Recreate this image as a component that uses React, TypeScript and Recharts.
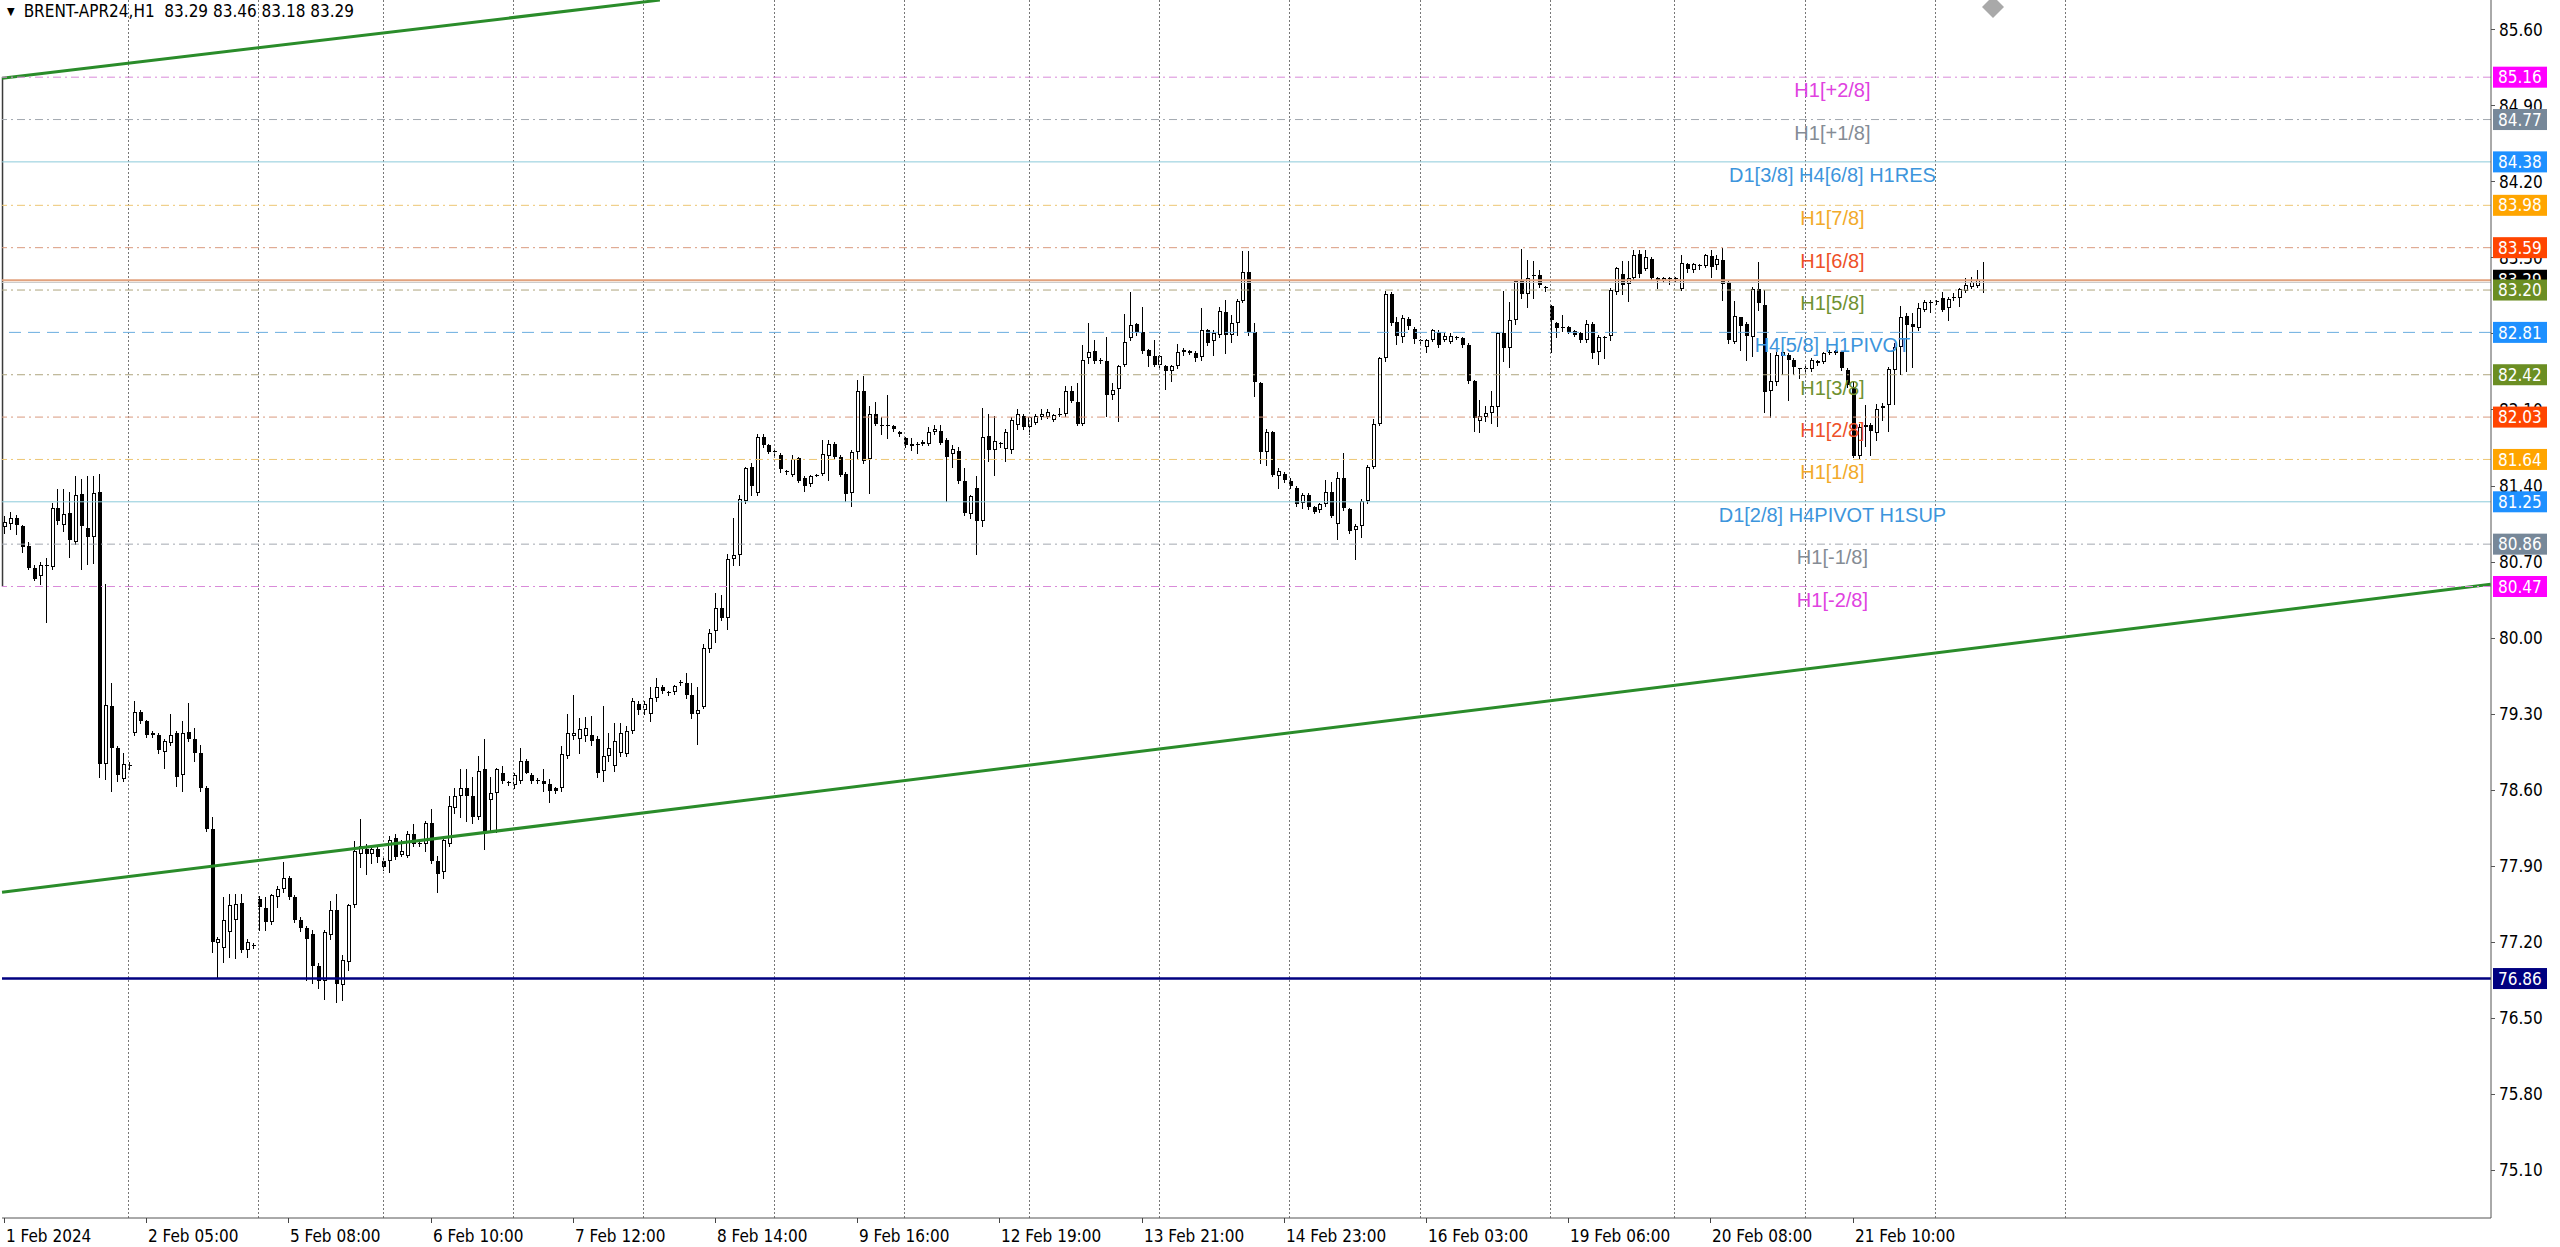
import React from 'react';
import { ComposedChart, Bar, XAxis, YAxis, ReferenceLine, ReferenceDot } from 'recharts';

// BRENT-APR24 H1 candles, 1 Feb 2024 -> 21 Feb 2024: [open, high, low, close]
const ohlc: number[][] = [
  [81.02, 81.12, 80.96, 81.06], [81.05, 81.16, 81.00, 81.10], [81.10, 81.13, 80.95, 81.04], [81.03, 81.04, 80.79, 80.83],
  [80.84, 80.88, 80.63, 80.64], [80.64, 80.67, 80.53, 80.54], [80.57, 80.70, 80.49, 80.67], [80.66, 80.73, 80.14, 80.67],
  [80.65, 81.24, 80.63, 81.19], [81.19, 81.37, 81.05, 81.07], [81.04, 81.37, 80.98, 81.14], [81.15, 81.34, 80.74, 80.90],
  [80.88, 81.49, 80.86, 81.31], [81.32, 81.46, 80.63, 81.03], [81.01, 81.49, 80.68, 80.93], [80.93, 81.49, 80.69, 81.33],
  [81.34, 81.51, 78.72, 78.84], [78.84, 80.49, 78.70, 79.38], [79.37, 79.58, 78.59, 78.98], [78.98, 79.00, 78.68, 78.73],
  [78.70, 78.94, 78.68, 78.84], [78.82, 78.85, 78.79, 78.83],
  // 2 Feb
  [79.12, 79.42, 79.10, 79.31], [79.31, 79.33, 79.21, 79.23], [79.23, 79.24, 79.08, 79.10], [79.12, 79.14, 79.08, 79.10],
  [79.10, 79.12, 78.94, 78.96], [78.95, 79.07, 78.80, 79.05], [79.03, 79.30, 79.01, 79.10], [79.12, 79.14, 78.63, 78.72],
  [78.73, 79.23, 78.59, 79.12], [79.13, 79.40, 79.05, 79.07], [79.07, 79.17, 78.86, 78.94], [78.94, 79.01, 78.59, 78.61],
  [78.61, 78.63, 78.22, 78.24], [78.24, 78.35, 77.10, 77.20], [77.19, 77.24, 76.87, 77.22], [77.14, 77.61, 77.01, 77.40],
  [77.29, 77.64, 77.06, 77.54], [77.40, 77.64, 77.05, 77.55], [77.56, 77.64, 77.10, 77.12], [77.12, 77.22, 77.06, 77.20],
  [77.17, 77.19, 77.14, 77.17],
  // 5 Feb
  [77.59, 77.62, 77.31, 77.52], [77.51, 77.61, 77.31, 77.38], [77.38, 77.64, 77.36, 77.63], [77.61, 77.71, 77.52, 77.68],
  [77.68, 77.93, 77.66, 77.79], [77.79, 77.80, 77.59, 77.61], [77.61, 77.63, 77.38, 77.40], [77.40, 77.43, 77.30, 77.33],
  [77.33, 77.34, 76.85, 77.22], [77.27, 77.31, 76.82, 76.98], [76.98, 77.00, 76.77, 76.84], [76.84, 77.31, 76.67, 77.29],
  [77.26, 77.57, 77.22, 77.49], [77.49, 77.64, 76.64, 76.81], [76.80, 77.08, 76.66, 77.03], [77.01, 77.55, 76.94, 77.54],
  [77.54, 78.13, 77.52, 78.03], [78.01, 78.33, 77.89, 78.08], [78.05, 78.10, 77.82, 78.01], [78.01, 78.08, 77.92, 78.05],
  [78.05, 78.08, 77.93, 77.98],
  // 6 Feb
  [77.94, 77.97, 77.86, 77.89], [77.94, 78.17, 77.84, 78.14], [78.15, 78.19, 77.96, 77.98], [78.00, 78.14, 77.99, 78.03],
  [77.99, 78.22, 77.98, 78.19], [78.19, 78.28, 78.08, 78.10], [78.10, 78.12, 78.08, 78.11], [78.10, 78.31, 78.03, 78.29],
  [78.29, 78.42, 77.92, 77.94], [77.94, 77.99, 77.66, 77.82], [77.84, 78.17, 77.79, 78.14], [78.10, 78.54, 78.08, 78.45],
  [78.43, 78.61, 78.38, 78.54], [78.54, 78.79, 78.35, 78.61], [78.61, 78.79, 78.31, 78.54], [78.54, 78.72, 78.29, 78.35],
  [78.35, 78.91, 78.33, 78.77], [78.79, 79.07, 78.05, 78.21], [78.50, 78.72, 78.21, 78.57], [78.57, 78.80, 78.21, 78.79],
  [78.75, 78.82, 78.66, 78.68], [78.66, 78.68, 78.64, 78.67],
  // 7 Feb
  [78.64, 78.75, 78.61, 78.73], [78.68, 78.98, 78.66, 78.86], [78.86, 78.88, 78.75, 78.75], [78.73, 78.75, 78.66, 78.68],
  [78.69, 78.71, 78.66, 78.68], [78.68, 78.79, 78.59, 78.65], [78.65, 78.70, 78.49, 78.59], [78.61, 78.62, 78.57, 78.59],
  [78.61, 79.00, 78.59, 78.93], [78.91, 79.30, 78.89, 79.12], [79.09, 79.47, 79.07, 79.12], [79.07, 79.26, 78.94, 79.16],
  [79.09, 79.27, 79.05, 79.17], [79.10, 79.28, 79.01, 79.05], [79.07, 79.09, 78.72, 78.75], [78.77, 79.37, 78.68, 78.91],
  [78.91, 79.12, 78.86, 78.98], [78.82, 79.21, 78.77, 79.05], [78.94, 79.21, 78.91, 79.12], [78.93, 79.19, 78.91, 79.14],
  [79.14, 79.44, 79.12, 79.42], [79.39, 79.42, 79.30, 79.33],
  // 8 Feb
  [79.33, 79.42, 79.30, 79.39], [79.30, 79.54, 79.23, 79.44], [79.44, 79.63, 79.42, 79.54], [79.54, 79.56, 79.49, 79.51],
  [79.49, 79.51, 79.47, 79.50], [79.50, 79.56, 79.48, 79.55], [79.58, 79.61, 79.56, 79.59], [79.58, 79.67, 79.44, 79.47],
  [79.47, 79.58, 79.26, 79.30], [79.30, 79.54, 79.02, 79.33], [79.36, 79.94, 79.35, 79.90], [79.89, 80.08, 79.87, 80.04],
  [80.06, 80.41, 79.96, 80.27], [80.27, 80.39, 80.16, 80.18], [80.18, 80.77, 80.08, 80.72], [80.72, 81.10, 80.67, 80.76],
  [80.76, 81.31, 80.67, 81.28], [81.26, 81.57, 81.24, 81.56], [81.57, 81.61, 81.31, 81.40], [81.33, 81.87, 81.31, 81.85],
  [81.85, 81.87, 81.75, 81.77], [81.77, 81.78, 81.70, 81.71],
  // 9 Feb
  [81.71, 81.73, 81.68, 81.72], [81.68, 81.70, 81.52, 81.55], [81.53, 81.54, 81.51, 81.52], [81.50, 81.68, 81.49, 81.64],
  [81.65, 81.66, 81.43, 81.44], [81.47, 81.49, 81.35, 81.40], [81.41, 81.50, 81.40, 81.49], [81.50, 81.51, 81.49, 81.50],
  [81.51, 81.82, 81.50, 81.69], [81.67, 81.82, 81.45, 81.78], [81.78, 81.80, 81.64, 81.66], [81.66, 81.68, 81.49, 81.50],
  [81.51, 81.52, 81.26, 81.32], [81.33, 81.73, 81.21, 81.71], [81.71, 82.37, 81.64, 82.27], [82.27, 82.41, 81.61, 81.63],
  [81.64, 82.13, 81.33, 82.06], [82.06, 82.17, 81.96, 81.97], [81.96, 82.03, 81.87, 81.96], [81.96, 82.23, 81.84, 81.95],
  [81.95, 81.96, 81.90, 81.92], [81.89, 81.90, 81.86, 81.87],
  // 12 Feb
  [81.84, 81.85, 81.75, 81.77], [81.76, 81.84, 81.73, 81.78], [81.78, 81.80, 81.70, 81.77], [81.78, 81.82, 81.77, 81.80],
  [81.78, 81.94, 81.77, 81.89], [81.89, 81.96, 81.87, 81.92], [81.90, 81.96, 81.78, 81.79], [81.82, 81.84, 81.26, 81.66],
  [81.69, 81.77, 81.57, 81.74], [81.72, 81.75, 81.42, 81.44], [81.44, 81.56, 81.13, 81.15], [81.14, 81.31, 81.10, 81.30],
  [81.38, 81.49, 80.77, 81.07], [81.07, 82.11, 81.03, 81.85], [81.86, 82.06, 81.63, 81.73], [81.73, 82.04, 81.50, 81.81],
  [81.78, 81.80, 81.75, 81.79], [81.74, 81.92, 81.63, 81.89], [81.73, 82.03, 81.70, 82.00], [81.96, 82.10, 81.92, 82.06],
  [82.04, 82.06, 81.92, 81.94], [81.94, 82.04, 81.87, 82.03],
  // 13 Feb
  [81.98, 82.06, 81.97, 82.04], [82.03, 82.10, 82.01, 82.06], [82.03, 82.10, 82.02, 82.08], [82.00, 82.06, 81.99, 82.05],
  [82.05, 82.11, 82.04, 82.06], [82.06, 82.32, 82.04, 82.27], [82.27, 82.32, 82.17, 82.18], [82.17, 82.34, 81.96, 81.97],
  [81.97, 82.69, 81.96, 82.56], [82.57, 82.90, 82.53, 82.63], [82.64, 82.74, 82.53, 82.55], [82.55, 82.57, 82.53, 82.56],
  [82.55, 82.77, 82.04, 82.23], [82.23, 82.34, 82.20, 82.28], [82.29, 82.51, 81.99, 82.50], [82.51, 82.98, 82.50, 82.72],
  [82.76, 83.18, 82.74, 82.88], [82.89, 82.90, 82.79, 82.81], [82.81, 83.04, 82.62, 82.64], [82.65, 82.66, 82.50, 82.59],
  [82.59, 82.74, 82.50, 82.51], [82.51, 82.60, 82.48, 82.59],
  // 14 Feb
  [82.50, 82.51, 82.29, 82.45], [82.45, 82.51, 82.36, 82.50], [82.50, 82.70, 82.48, 82.63], [82.63, 82.67, 82.60, 82.65],
  [82.62, 82.65, 82.61, 82.64], [82.62, 82.64, 82.55, 82.57], [82.58, 83.03, 82.56, 82.83], [82.83, 82.84, 82.69, 82.71],
  [82.73, 82.83, 82.60, 82.80], [82.79, 83.04, 82.77, 83.01], [83.00, 83.11, 82.62, 82.79], [82.79, 82.97, 82.72, 82.90],
  [82.90, 83.12, 82.79, 83.10], [83.10, 83.56, 83.09, 83.37], [83.37, 83.56, 82.79, 82.81], [82.81, 82.90, 82.22, 82.35],
  [82.34, 82.35, 81.61, 81.71], [81.71, 81.92, 81.59, 81.89], [81.89, 81.90, 81.49, 81.50], [81.49, 81.56, 81.38, 81.53],
  [81.51, 81.52, 81.43, 81.45], [81.44, 81.47, 81.38, 81.40],
  // 15 Feb
  [81.38, 81.40, 81.21, 81.23], [81.24, 81.33, 81.19, 81.31], [81.31, 81.33, 81.18, 81.20], [81.20, 81.21, 81.15, 81.16],
  [81.17, 81.24, 81.16, 81.23], [81.23, 81.45, 81.21, 81.34], [81.34, 81.43, 81.11, 81.12], [81.05, 81.52, 80.91, 81.47],
  [81.47, 81.70, 81.17, 81.19], [81.18, 81.19, 80.96, 80.98], [80.99, 81.05, 80.72, 81.03], [81.03, 81.28, 80.93, 81.26],
  [81.26, 81.59, 81.24, 81.57], [81.57, 82.01, 81.56, 81.97], [81.97, 82.58, 81.96, 82.57], [82.57, 83.19, 82.55, 83.16],
  [83.16, 83.18, 82.88, 82.90], [82.91, 82.95, 82.70, 82.78], [82.77, 82.97, 82.72, 82.94], [82.93, 82.95, 82.84, 82.87],
  [82.84, 82.86, 82.71, 82.75], [82.74, 82.75, 82.71, 82.73],
  // 16 Feb
  [82.68, 82.75, 82.63, 82.74], [82.74, 82.84, 82.73, 82.83], [82.81, 82.83, 82.68, 82.69], [82.74, 82.80, 82.73, 82.78],
  [82.72, 82.80, 82.71, 82.78], [82.77, 82.78, 82.75, 82.76], [82.76, 82.77, 82.68, 82.69], [82.69, 82.71, 82.34, 82.36],
  [82.36, 82.37, 81.90, 82.02], [81.99, 82.19, 81.89, 82.04], [82.03, 82.13, 81.99, 82.07], [82.07, 82.27, 81.98, 82.13],
  [82.12, 82.81, 81.95, 82.80], [82.80, 83.19, 82.55, 82.67], [82.67, 83.09, 82.49, 82.92], [82.92, 83.29, 82.89, 83.28],
  [83.28, 83.58, 83.13, 83.16], [83.16, 83.48, 83.04, 83.31], [83.33, 83.47, 83.13, 83.34], [83.34, 83.38, 83.23, 83.25],
  [83.23, 83.24, 83.19, 83.22],
  // 19 Feb
  [83.05, 83.06, 82.63, 82.92], [82.90, 82.91, 82.77, 82.85], [82.86, 82.97, 82.82, 82.85], [82.86, 82.87, 82.80, 82.81],
  [82.82, 82.83, 82.78, 82.79], [82.80, 82.81, 82.72, 82.74], [82.74, 82.92, 82.72, 82.89], [82.89, 82.91, 82.57, 82.62],
  [82.63, 82.79, 82.52, 82.77], [82.76, 82.78, 82.57, 82.77], [82.78, 83.22, 82.74, 83.20], [83.18, 83.41, 83.16, 83.40],
  [83.35, 83.47, 83.16, 83.25], [83.26, 83.47, 83.10, 83.31], [83.31, 83.57, 83.29, 83.52], [83.53, 83.57, 83.32, 83.35],
  [83.39, 83.57, 83.38, 83.50], [83.49, 83.50, 83.30, 83.31], [83.31, 83.32, 83.22, 83.29], [83.28, 83.32, 83.27, 83.31],
  [83.31, 83.32, 83.26, 83.30], [83.30, 83.32, 83.28, 83.31],
  // 20 Feb
  [83.21, 83.52, 83.20, 83.45], [83.44, 83.45, 83.37, 83.39], [83.38, 83.45, 83.37, 83.44], [83.42, 83.44, 83.39, 83.43],
  [83.42, 83.53, 83.41, 83.52], [83.51, 83.57, 83.32, 83.41], [83.43, 83.52, 83.39, 83.49], [83.48, 83.59, 83.11, 83.26],
  [83.27, 83.28, 82.71, 82.74], [82.72, 83.10, 82.71, 82.96], [82.95, 82.95, 82.65, 82.87], [82.89, 82.91, 82.56, 82.78],
  [82.77, 83.23, 82.59, 83.21], [83.21, 83.46, 83.02, 83.08], [83.06, 83.20, 82.08, 82.26], [82.27, 82.62, 82.03, 82.36],
  [82.35, 82.63, 82.33, 82.60], [82.59, 82.69, 82.43, 82.63], [82.60, 82.62, 82.19, 82.56], [82.56, 82.57, 82.43, 82.49],
  [82.48, 82.48, 82.39, 82.47], [82.47, 82.50, 82.45, 82.48],
  // 21 Feb
  [82.47, 82.57, 82.45, 82.56], [82.55, 82.56, 82.51, 82.53], [82.54, 82.63, 82.53, 82.62], [82.62, 82.65, 82.61, 82.63],
  [82.62, 82.65, 82.61, 82.64], [82.63, 82.64, 82.46, 82.48], [82.46, 82.48, 82.31, 82.33], [82.31, 82.36, 81.66, 81.67],
  [81.67, 81.97, 81.65, 81.94], [81.94, 82.14, 81.76, 81.96], [81.96, 81.98, 81.68, 81.90], [81.88, 82.15, 81.82, 82.10],
  [82.11, 82.16, 82.00, 82.13], [82.14, 82.49, 81.90, 82.47], [82.46, 82.71, 82.15, 82.68], [82.68, 83.05, 82.43, 82.95],
  [82.96, 82.99, 82.45, 82.88], [82.89, 82.99, 82.49, 82.86], [82.85, 83.08, 82.83, 83.03], [83.02, 83.11, 83.01, 83.09],
  [83.08, 83.11, 83.00, 83.09], [83.09, 83.11, 83.07, 83.10], [83.13, 83.18, 83.01, 83.02], [83.03, 83.14, 82.92, 83.12],
  [83.13, 83.17, 83.11, 83.14], [83.13, 83.22, 83.05, 83.21], [83.19, 83.31, 83.18, 83.25], [83.23, 83.32, 83.22, 83.27],
  [83.24, 83.38, 83.23, 83.29], [83.29, 83.46, 83.18, 83.29],
];

const symbol = 'BRENT-APR24,H1';

const timeTickBars = [0, 24, 48, 72, 96, 120, 144, 168, 192, 216, 240, 264, 288, 312];
const timeTickLabels = [
  '1 Feb 2024', '2 Feb 05:00', '5 Feb 08:00', '6 Feb 10:00', '7 Feb 12:00', '8 Feb 14:00', '9 Feb 16:00',
  '12 Feb 19:00', '13 Feb 21:00', '14 Feb 23:00', '16 Feb 03:00', '19 Feb 06:00', '20 Feb 08:00', '21 Feb 10:00',
];
const gridBars = [21, 43, 64, 86, 108, 130, 152, 173, 195, 217, 239, 261, 282, 304, 326, 348];
const priceTicks = [85.6, 84.9, 84.2, 83.5, 82.8, 82.1, 81.4, 80.7, 80.0, 79.3, 78.6, 77.9, 77.2, 76.5, 75.8, 75.1];

// murrey math levels
const levelPrices = [85.16, 84.77, 84.38, 83.98, 83.59, 83.2, 82.81, 82.42, 82.03, 81.64, 81.25, 80.86, 80.47];
const levelNames = [
  'H1[+2/8]', 'H1[+1/8]', 'D1[3/8] H4[6/8] H1RES', 'H1[7/8]', 'H1[6/8]', 'H1[5/8]', 'H4[5/8] H1PIVOT',
  'H1[3/8]', 'H1[2/8]', 'H1[1/8]', 'D1[2/8] H4PIVOT H1SUP', 'H1[-1/8]', 'H1[-2/8]',
];
const levelKinds = ['p2', 'p1', 'res', 'o', 'r', 'g', 'piv', 'g', 'r', 'o', 'res', 'p1', 'p2'];
const labelBar = 308.6;
const murreyBracket = [85.16, 80.47];

const bidPrice = 83.29;
const askPrice = 83.27;
const supportPrice = 76.86;

// trend channel: [bar, price] end points
const channelTop = [[-0.33, 85.15], [110.7, 85.87]];
const channelBottom = [[-0.33, 77.655], [419.7, 80.49]];
const markerPoint = [335.7, 85.806];

const X_MIN = -0.3376;
const X_MAX = 419.75;
const Y_MIN = 74.655;
const Y_MAX = 85.8707;

const MT_FONT = "'DejaVu Sans Condensed', 'DejaVu Sans', sans-serif";
const LABEL_FONT = "'Liberation Sans', Arial, sans-serif";

const kindStyle: Record<string, { line: string; text: string; badge: string; dash?: string }> = {
  p2: { line: '#d98ad9', text: '#e042e0', badge: '#ff00ff', dash: '8 4 2 4' },
  p1: { line: '#a3a9b0', text: '#858c95', badge: '#778899', dash: '8 4 2 4' },
  res: { line: '#8ccada', text: '#3d95dc', badge: '#1e90ff' },
  o: { line: '#edc673', text: '#f2aa2a', badge: '#ffa500', dash: '8 4 2 4' },
  r: { line: '#da9a7e', text: '#ee5028', badge: '#ff4500', dash: '8 4 2 4' },
  g: { line: '#aea57e', text: '#6f9131', badge: '#6b8e23', dash: '8 4 2 4' },
  piv: { line: '#6aaee0', text: '#3d95dc', badge: '#1e90ff', dash: '12 7' },
};

// right-edge price badges, drawn after the axis labels so they cover them
const badgePrices = [...levelPrices.slice(0, 5), bidPrice, ...levelPrices.slice(5), supportPrice];
const badgeColors = [
  ...levelKinds.slice(0, 5).map((k) => kindStyle[k].badge),
  '#000000',
  ...levelKinds.slice(5).map((k) => kindStyle[k].badge),
  '#000080',
];
const axisTicks = [...priceTicks, ...badgePrices];

const data = ohlc.map((b, i) => ({ i, o: b[0], h: b[1], l: b[2], c: b[3], range: [b[2], b[1]] }));

const Candle = (props: any) => {
  const { x, y, width, height, payload } = props;
  if (!payload || x == null || y == null) return null;
  const { o, h, l, c } = payload;
  const top = Math.min(y, y + height);
  const span = Math.abs(height);
  const k = h > l ? span / (h - l) : 0;
  const cx = Math.round(x + width / 2);
  const yo = top + (h - o) * k;
  const yc = top + (h - c) * k;
  const bt = Math.round(Math.min(yo, yc));
  const bb = Math.round(Math.max(yo, yc));
  const up = c >= o;
  return (
    <g shapeRendering="crispEdges">
      <line x1={cx + 0.5} x2={cx + 0.5} y1={Math.round(top)} y2={Math.round(top + span) + 1} stroke="#000" />
      {bb - bt < 2 ? (
        <line x1={cx - 1} x2={cx + 3} y1={bt + 0.5} y2={bt + 0.5} stroke="#000" />
      ) : up ? (
        <rect x={cx - 0.5} y={bt + 0.5} width={3} height={bb - bt - 1} fill="#fff" stroke="#000" />
      ) : (
        <rect x={cx - 1} y={bt} width={4} height={bb - bt} fill="#000" />
      )}
    </g>
  );
};

const levelLabel = (idx: number) => (props: any) => {
  const vb = props.viewBox;
  if (!vb) return null;
  const st = kindStyle[levelKinds[idx]];
  const px = vb.x + ((labelBar - X_MIN) / (X_MAX - X_MIN)) * vb.width;
  return (
    <text x={px} y={vb.y + 20} textAnchor="middle" fill={st.text} fontSize={20} fontFamily={LABEL_FONT}>
      {levelNames[idx]}
    </text>
  );
};

const PriceTick = (props: any) => {
  const { x, y, index, payload } = props;
  const yr = Math.round(y);
  if (index < priceTicks.length) {
    return (
      <g>
        <line x1={x} x2={x + 4} y1={yr + 0.5} y2={yr + 0.5} stroke="#555" shapeRendering="crispEdges" />
        <text x={x + 8} y={y} dy="0.36em" fill="#000" fontSize={17} fontFamily={MT_FONT}>
          {Number(payload.value).toFixed(2)}
        </text>
      </g>
    );
  }
  const color = badgeColors[index - priceTicks.length];
  return (
    <g>
      <rect x={x + 2} y={y - 10.5} width={54} height={21} fill={color} />
      <text x={x + 7} y={y} dy="0.36em" fill="#fff" fontSize={17} fontFamily={MT_FONT}>
        {Number(payload.value).toFixed(2)}
      </text>
    </g>
  );
};

const TimeTick = (props: any) => {
  const { x, y, payload } = props;
  const k = timeTickBars.indexOf(payload.value);
  const xr = Math.round(x);
  return (
    <g>
      <line x1={xr + 0.5} x2={xr + 0.5} y1={y} y2={y + 5} stroke="#444" />
      <text x={xr + 2} y={y + 24} fill="#000" fontSize={17} fontFamily={MT_FONT}>
        {k >= 0 ? timeTickLabels[k] : ''}
      </text>
    </g>
  );
};

const Diamond = (props: any) => {
  const { cx, cy } = props;
  if (cx == null) return null;
  return <polygon points={`${cx},${cy - 11} ${cx + 11},${cy} ${cx},${cy + 11} ${cx - 11},${cy}`} fill="#a9a9a9" />;
};

const last = ohlc[ohlc.length - 1];
const title = `${symbol}  ${last.map((v) => v.toFixed(2)).join(' ')}`;

export default function App() {
  return (
    <div style={{ position: 'relative', width: 2560, height: 1247, background: '#fff', overflow: 'hidden' }}>
      <style>{'body{margin:0}'}</style>
      <ComposedChart
        width={2560}
        height={1247}
        data={data}
        margin={{ top: 0, right: 0, left: 2, bottom: 0 }}
        style={{ fontFamily: MT_FONT }}
      >
        <XAxis
          dataKey="i"
          type="number"
          domain={[X_MIN, X_MAX]}
          allowDataOverflow
          ticks={timeTickBars}
          interval={0}
          height={29}
          tickLine={false}
          tickSize={0}
          tickMargin={0}
          axisLine={{ stroke: '#555' }}
          tick={<TimeTick />}
        />
        <YAxis
          orientation="right"
          type="number"
          domain={[Y_MIN, Y_MAX]}
          allowDataOverflow
          ticks={axisTicks}
          interval={0}
          width={69}
          tickLine={false}
          tickSize={0}
          tickMargin={0}
          axisLine={{ stroke: '#555' }}
          tick={<PriceTick />}
        />
        {gridBars.map((g) => (
          <ReferenceLine key={`g${g}`} x={g} stroke="#777" strokeDasharray="2 2" shapeRendering="crispEdges" />
        ))}
        <Bar dataKey="range" shape={<Candle />} isAnimationActive={false} />
        <ReferenceLine
          segment={[{ x: -0.25, y: murreyBracket[0] }, { x: -0.25, y: murreyBracket[1] }]}
          stroke="#3a3a3a"
          strokeWidth={1.5}
        />
        <ReferenceLine segment={channelTop.map(([x, y]) => ({ x, y }))} stroke="#2a8c2a" strokeWidth={3} />
        <ReferenceLine segment={channelBottom.map(([x, y]) => ({ x, y }))} stroke="#2a8c2a" strokeWidth={3} />
        <ReferenceLine y={askPrice} stroke="#c8c8c8" strokeWidth={1} />
        <ReferenceLine y={bidPrice} stroke="#e2a27e" strokeWidth={2} />
        {levelPrices.map((p, idx) => {
          const st = kindStyle[levelKinds[idx]];
          return (
            <ReferenceLine
              key={`lv${idx}`}
              y={p}
              stroke={st.line}
              strokeWidth={1}
              strokeDasharray={st.dash}
              label={levelLabel(idx)}
            />
          );
        })}
        <ReferenceLine y={supportPrice} stroke="#000080" strokeWidth={2.5} />
        <ReferenceDot x={markerPoint[0]} y={markerPoint[1]} r={11} shape={<Diamond />} />
      </ComposedChart>
      <div
        style={{
          position: 'absolute',
          left: 7,
          top: 1,
          fontFamily: MT_FONT,
          fontSize: 17,
          color: '#000',
          whiteSpace: 'pre',
        }}
      >
        <span style={{ fontSize: 11, position: 'relative', top: -2 }}>▼</span>
        <span style={{ marginLeft: 9 }}>{title}</span>
      </div>
    </div>
  );
}
